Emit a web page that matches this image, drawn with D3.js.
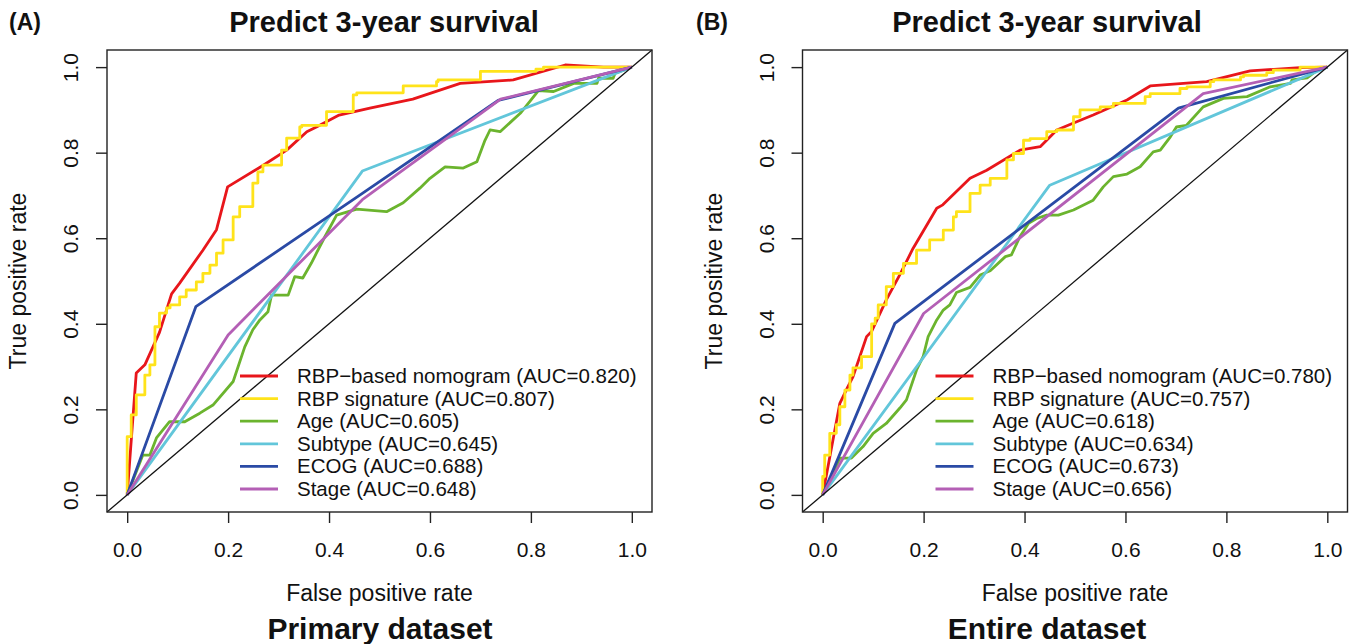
<!DOCTYPE html>
<html>
<head>
<meta charset="utf-8">
<title>Predict 3-year survival</title>
<script src="https://d3js.org/d3.v7.min.js"></script>
<style>
  body { margin: 0; background: #fff; }
  text { font-family: "Liberation Sans", Arial, Helvetica, sans-serif; fill: #111; }
</style>
</head>
<body>
<script>

// ---- data ----
var ticks = [0, 0.2, 0.4, 0.6, 0.8, 1.0];
var seriesLabels = ["RBP\u2212based nomogram", "RBP signature", "Age", "Subtype", "ECOG", "Stage"];
var aucPrimary = [0.820, 0.807, 0.605, 0.645, 0.688, 0.648];
var aucEntire  = [0.780, 0.757, 0.618, 0.634, 0.673, 0.656];

// (A) primary dataset, [fpr, tpr]
var primaryNomogram = [[0,0],[0.018,0.285],[0.035,0.304],[0.064,0.38],[0.088,0.47],[0.104,0.495],[0.15,0.572],[0.177,0.62],[0.199,0.72],[0.269,0.77],[0.316,0.806],[0.356,0.849],[0.375,0.86],[0.42,0.888],[0.481,0.904],[0.566,0.925],[0.66,0.962],[0.765,0.97],[0.868,1.005],[0.944,1.0],[1,1]];
var primarySignature = [[0,0],[0.008,0.136],[0.018,0.187],[0.035,0.234],[0.045,0.28],[0.055,0.304],[0.064,0.393],[0.078,0.425],[0.085,0.437],[0.104,0.444],[0.117,0.463],[0.137,0.479],[0.15,0.498],[0.164,0.518],[0.177,0.537],[0.19,0.565],[0.21,0.596],[0.223,0.65],[0.249,0.674],[0.259,0.729],[0.269,0.755],[0.306,0.771],[0.316,0.806],[0.342,0.834],[0.346,0.86],[0.395,0.864],[0.415,0.896],[0.448,0.896],[0.455,0.935],[0.547,0.94],[0.557,0.956],[0.613,0.956],[0.616,0.966],[0.70,0.97],[0.709,0.99],[0.81,0.99],[0.825,0.995],[0.944,1.0],[1,1]];
var primaryAge = [[0,0],[0.031,0.093],[0.045,0.093],[0.058,0.133],[0.084,0.171],[0.114,0.171],[0.144,0.191],[0.17,0.21],[0.21,0.265],[0.233,0.346],[0.249,0.386],[0.263,0.409],[0.279,0.428],[0.286,0.467],[0.319,0.467],[0.332,0.51],[0.348,0.507],[0.365,0.542],[0.375,0.565],[0.392,0.604],[0.415,0.654],[0.455,0.668],[0.514,0.662],[0.547,0.683],[0.58,0.717],[0.60,0.74],[0.63,0.767],[0.666,0.764],[0.693,0.779],[0.709,0.829],[0.719,0.853],[0.739,0.849],[0.779,0.892],[0.815,0.945],[0.845,0.943],[0.885,0.962],[0.931,0.962],[0.934,0.974],[0.963,0.974],[0.967,0.986],[1,1]];
var primarySubtype = [[0,0],[0.466,0.757],[1,1]];
var primaryEcog = [[0,0],[0.136,0.44],[0.466,0.705],[0.735,0.922],[1,1]];
var primaryStage = [[0,0],[0.2,0.374],[0.466,0.69],[0.74,0.925],[1,1]];

// (B) entire dataset, [fpr, tpr]
var entireNomogram = [[0,0],[0.034,0.214],[0.05,0.253],[0.06,0.276],[0.087,0.37],[0.097,0.382],[0.126,0.456],[0.153,0.515],[0.179,0.576],[0.226,0.67],[0.238,0.678],[0.292,0.74],[0.325,0.759],[0.391,0.806],[0.431,0.814],[0.464,0.853],[0.49,0.866],[0.536,0.888],[0.603,0.923],[0.649,0.956],[0.761,0.966],[0.847,0.991],[0.946,0.999],[1,1]];
var entireSignature = [[0,0],[0.004,0.043],[0.014,0.093],[0.027,0.144],[0.034,0.164],[0.044,0.206],[0.054,0.245],[0.06,0.28],[0.077,0.297],[0.097,0.323],[0.104,0.40],[0.11,0.413],[0.126,0.444],[0.14,0.487],[0.16,0.518],[0.186,0.541],[0.212,0.572],[0.239,0.596],[0.259,0.619],[0.265,0.65],[0.292,0.662],[0.312,0.705],[0.332,0.724],[0.365,0.74],[0.378,0.783],[0.398,0.798],[0.411,0.829],[0.444,0.833],[0.464,0.849],[0.497,0.853],[0.51,0.884],[0.55,0.9],[0.576,0.907],[0.639,0.915],[0.649,0.931],[0.708,0.938],[0.722,0.95],[0.768,0.954],[0.775,0.966],[0.828,0.97],[0.834,0.977],[0.88,0.981],[0.893,0.987],[0.946,0.993],[0.953,1.0],[1,1]];
var entireAge = [[0,0],[0.034,0.086],[0.057,0.086],[0.08,0.113],[0.1,0.144],[0.126,0.167],[0.153,0.203],[0.166,0.222],[0.186,0.292],[0.199,0.323],[0.209,0.37],[0.226,0.409],[0.239,0.432],[0.252,0.444],[0.265,0.473],[0.292,0.485],[0.312,0.514],[0.332,0.524],[0.362,0.557],[0.374,0.561],[0.391,0.604],[0.408,0.635],[0.424,0.646],[0.444,0.654],[0.467,0.654],[0.497,0.666],[0.536,0.689],[0.556,0.72],[0.576,0.744],[0.603,0.75],[0.629,0.767],[0.655,0.802],[0.669,0.806],[0.689,0.837],[0.701,0.86],[0.721,0.864],[0.754,0.907],[0.794,0.927],[0.841,0.931],[0.887,0.954],[0.927,0.962],[0.93,0.97],[0.96,0.975],[0.98,0.993],[1,1]];
var entireSubtype = [[0,0],[0.45,0.724],[1,1]];
var entireEcog = [[0,0],[0.143,0.401],[0.705,0.904],[1,1]];
var entireStage = [[0,0],[0.2,0.424],[0.754,0.938],[1,1]];

var colors = ["#e8161b", "#ffe31a", "#6bb42e", "#62c6da", "#2a4aa5", "#b45fb5"];

var width = 1351,
    height = 644;

var svg = d3.select('body')
  .append('svg')
  .attr('width', width)
  .attr('height', height);

var panels = [
  { tag: '(A)', tagX: 9, left: 107, titleX: 384, subX: 380, subtitle: 'Primary dataset', auc: aucPrimary,
    series: [primaryNomogram, primarySignature, primaryAge, primarySubtype, primaryEcog, primaryStage] },
  { tag: '(B)', tagX: 696, left: 802.5, titleX: 1047, subX: 1047, subtitle: 'Entire dataset', auc: aucEntire,
    series: [entireNomogram, entireSignature, entireAge, entireSubtype, entireEcog, entireStage] }
];

var boxW = 545, boxTop = 50, boxBottom = 512;

panels.forEach(function(p) {
  var g = svg.append('g');

  var x = d3.scaleLinear().domain([-0.04, 1.04]).range([p.left, p.left + boxW]);
  var y = d3.scaleLinear().domain([-0.04, 1.04]).range([boxBottom, boxTop]);

  // curves
  var line = d3.line()
    .x(function(d) { return x(d[0]); })
    .y(function(d) { return y(d[1]); });

  p.series.forEach(function(s, i) {
    g.append('path')
      .datum(s)
      .attr('fill', 'none')
      .attr('stroke', colors[i])
      .attr('stroke-width', 2.8)
      .attr('stroke-linejoin', 'round')
      .attr('d', i === 1 ? line.curve(d3.curveStepBefore)(s) : line.curve(d3.curveLinear)(s));
  });

  // reference diagonal
  g.append('line')
    .attr('x1', x(-0.04)).attr('y1', y(-0.04))
    .attr('x2', x(1.04)).attr('y2', y(1.04))
    .attr('stroke', '#111')
    .attr('stroke-width', 1.3);

  // box
  g.append('rect')
    .attr('x', p.left).attr('y', boxTop)
    .attr('width', boxW).attr('height', boxBottom - boxTop)
    .attr('fill', 'none')
    .attr('stroke', '#222')
    .attr('stroke-width', 1.4);

  // axes
  var xAxis = g.append('g')
    .attr('transform', 'translate(0,' + boxBottom + ')')
    .call(d3.axisBottom(x).tickValues(ticks).tickFormat(d3.format('.1f')).tickSize(11));
  xAxis.select('.domain').remove();
  xAxis.selectAll('line').attr('stroke', '#222').attr('stroke-width', 1.4);
  xAxis.selectAll('text')
    .attr('dy', null)
    .attr('y', 45)
    .style('font-size', '21px')
    .attr('fill', '#111');

  var yAxis = g.append('g')
    .attr('transform', 'translate(' + p.left + ',0)')
    .call(d3.axisLeft(y).tickValues(ticks).tickFormat(d3.format('.1f')).tickSize(11));
  yAxis.select('.domain').remove();
  yAxis.selectAll('line').attr('stroke', '#222').attr('stroke-width', 1.4);
  yAxis.selectAll('text')
    .attr('dy', null)
    .attr('x', 0)
    .attr('y', -29)
    .attr('transform', 'rotate(-90)')
    .attr('text-anchor', 'middle')
    .style('font-size', '21px')
    .attr('fill', '#111');

  // labels
  g.append('text')
    .attr('x', (x(-0.04) + x(1.04)) / 2)
    .attr('y', 601)
    .attr('text-anchor', 'middle')
    .style('font-size', '23px')
    .text('False positive rate');

  g.append('text')
    .attr('transform', 'translate(' + (p.left - 81) + ',' + ((boxTop + boxBottom) / 2) + ') rotate(-90)')
    .attr('text-anchor', 'middle')
    .style('font-size', '23px')
    .text('True positive rate');

  g.append('text')
    .attr('x', p.titleX)
    .attr('y', 32)
    .attr('text-anchor', 'middle')
    .style('font-size', '29px')
    .style('font-weight', 'bold')
    .text('Predict 3-year survival');

  g.append('text')
    .attr('x', p.tagX)
    .attr('y', 30)
    .style('font-size', '23px')
    .style('font-weight', 'bold')
    .text(p.tag);

  g.append('text')
    .attr('x', p.subX)
    .attr('y', 639)
    .attr('text-anchor', 'middle')
    .style('font-size', '30px')
    .style('font-weight', 'bold')
    .text(p.subtitle);

  // legend
  var legend = g.append('g');
  seriesLabels.forEach(function(name, i) {
    var ly = 376 + i * 22.6;
    legend.append('line')
      .attr('x1', p.left + 133).attr('x2', p.left + 171)
      .attr('y1', ly).attr('y2', ly)
      .attr('stroke', colors[i])
      .attr('stroke-width', 2.8);
    legend.append('text')
      .attr('x', p.left + 190)
      .attr('y', ly + 7)
      .style('font-size', '20.5px')
      .text(name + ' (AUC=' + p.auc[i].toFixed(3) + ')');
  });
});

</script>
</body>
</html>
